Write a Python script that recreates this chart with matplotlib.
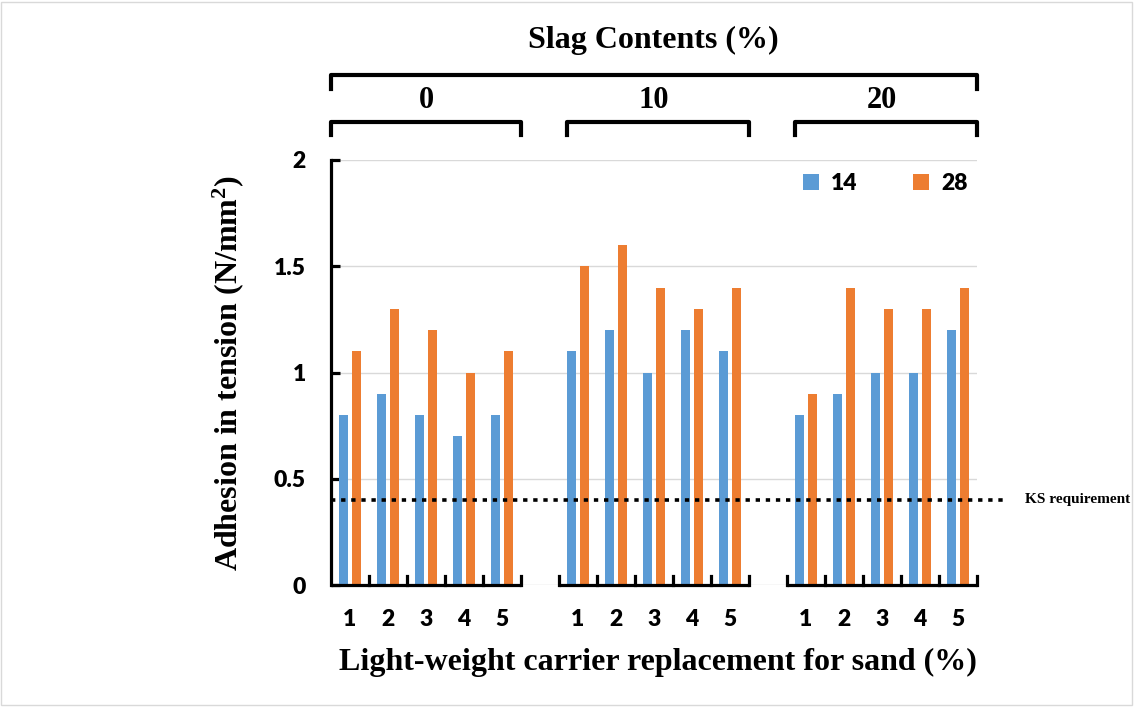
import numpy as np
import matplotlib.pyplot as plt
from matplotlib.patches import Rectangle
from matplotlib.transforms import blended_transform_factory

# data
slag_groups = ['0', '10', '20']
replacement = ['1', '2', '3', '4', '5']
age_14 = [0.8, 0.9, 0.8, 0.7, 0.8,
          1.1, 1.2, 1.0, 1.2, 1.1,
          0.8, 0.9, 1.0, 1.0, 1.2]
age_28 = [1.1, 1.3, 1.2, 1.0, 1.1,
          1.5, 1.6, 1.4, 1.3, 1.4,
          0.9, 1.4, 1.3, 1.3, 1.4]
series_names = ['14', '28']
ks_limit = 0.4
y_ticks = [0, 0.5, 1, 1.5, 2]
y_tick_labels = ['0', '0.5', '1', '1.5', '2']

plt.rcParams['mathtext.default'] = 'regular'

blue = '#5b9bd5'
orange = '#ed7d31'
sans = ['Lato', 'DejaVu Sans']
serif = ['Liberation Serif', 'DejaVu Serif']

# positions: 5 bars per group, one empty slot between groups
n = len(replacement)
starts = [g * (n + 1) for g in range(len(slag_groups))]
pos = np.array([s + i for s in starts for i in range(n)])

fig = plt.figure(figsize=(11.4, 7.07), dpi=100)
ax = fig.add_axes([331 / 1140, 1 - 585 / 707, 646 / 1140, 425 / 707])

w = 0.24
ax.bar(pos - 0.16, age_14, w, color=blue, label=series_names[0], zorder=3)
ax.bar(pos + 0.16, age_28, w, color=orange, label=series_names[1], zorder=3)

ax.set_xlim(-0.5, pos[-1] + 0.5)
ax.set_ylim(0, 2)
ax.set_yticks(y_ticks)
ax.set_yticklabels(y_tick_labels)
ax.yaxis.grid(True, color='#d9d9d9', lw=1, zorder=0)
ax.set_axisbelow(True)

for sp in ['top', 'right', 'bottom']:
    ax.spines[sp].set_visible(False)
ax.spines['left'].set_linewidth(2.3)

ax.tick_params(axis='y', direction='in', length=6.5, width=2.3, pad=18,
               labelsize=16.5)
ax.set_xticks(pos)
ax.set_xticklabels(replacement * len(slag_groups))
ax.tick_params(axis='x', which='major', length=0, pad=17, labelsize=16.5)
for lab in ax.get_xticklabels() + ax.get_yticklabels():
    lab.set_fontfamily(sans)
    lab.set_fontweight('heavy')

# broken x axis with upward ticks at category borders
tr = blended_transform_factory(ax.transData, ax.transAxes)
for s in starts:
    ax.plot([s - 0.5, s + n - 0.5], [0, 0], color='black', lw=2.3,
            transform=tr, clip_on=False, solid_capstyle='butt', zorder=4)
    for b in np.arange(s - 0.5, s + n, 1.0):
        if b == -0.5:
            continue
        ax.plot([b, b], [0, 0.022], color='black', lw=2.3,
                transform=tr, clip_on=False, zorder=4)

# KS requirement line
ax.plot([0, 1.048], [ks_limit, ks_limit], transform=ax.get_yaxis_transform(),
        color='black', lw=2.6, linestyle=(0, (1.2, 1.6)), clip_on=False,
        zorder=4)
ax.text(1.074, ks_limit, 'KS requirement', transform=ax.get_yaxis_transform(),
        ha='left', va='center', fontsize=11, fontweight='bold',
        family=serif)

# brackets on top
def bracket(x0, x1, y, drop):
    ax.plot([x0, x0, x1, x1], [y - drop, y, y, y - drop], color='black',
            lw=3, transform=tr, clip_on=False, solid_joinstyle='round')

bracket(-0.5, pos[-1] + 0.5, 1.2, 0.032)
for g, s in enumerate(starts):
    x0 = s - 0.5 if g == 0 else s - 0.3
    bracket(x0, s + n - 0.5, 1.089, 0.03)
    ax.text(s + (n - 1) / 2, 1.141, slag_groups[g], transform=tr,
            ha='center', va='center', fontsize=22, fontweight='bold',
            family=serif)

fig.text(653 / 1140, 1 - 40 / 707, 'Slag Contents (%)', ha='center',
         va='center', fontsize=23, fontweight='bold', family=serif)
fig.text(658 / 1140, 1 - 662 / 707,
         'Light-weight carrier replacement for sand (%)', ha='center',
         va='center', fontsize=23, fontweight='bold', family=serif)
fig.text(228 / 1140, 1 - 373 / 707, 'Adhesion in tension (N/mm$^2$)',
         ha='center', va='center', rotation=90, fontsize=23,
         fontweight='bold', family=serif)

leg = ax.legend(ncol=2, frameon=False, loc='center',
                bbox_to_anchor=(0.858, 0.944), handlelength=0.7,
                handleheight=0.7, handletextpad=0.55, columnspacing=2.4,
                prop={'family': sans, 'weight': 'heavy', 'size': 16.5})

fig.patches.append(Rectangle((1 / 1140, 2 / 707), 1131 / 1140, 703 / 707,
                             transform=fig.transFigure, fill=False,
                             edgecolor='#d9d9d9', lw=1))

fig.savefig('out.png', dpi=100)
